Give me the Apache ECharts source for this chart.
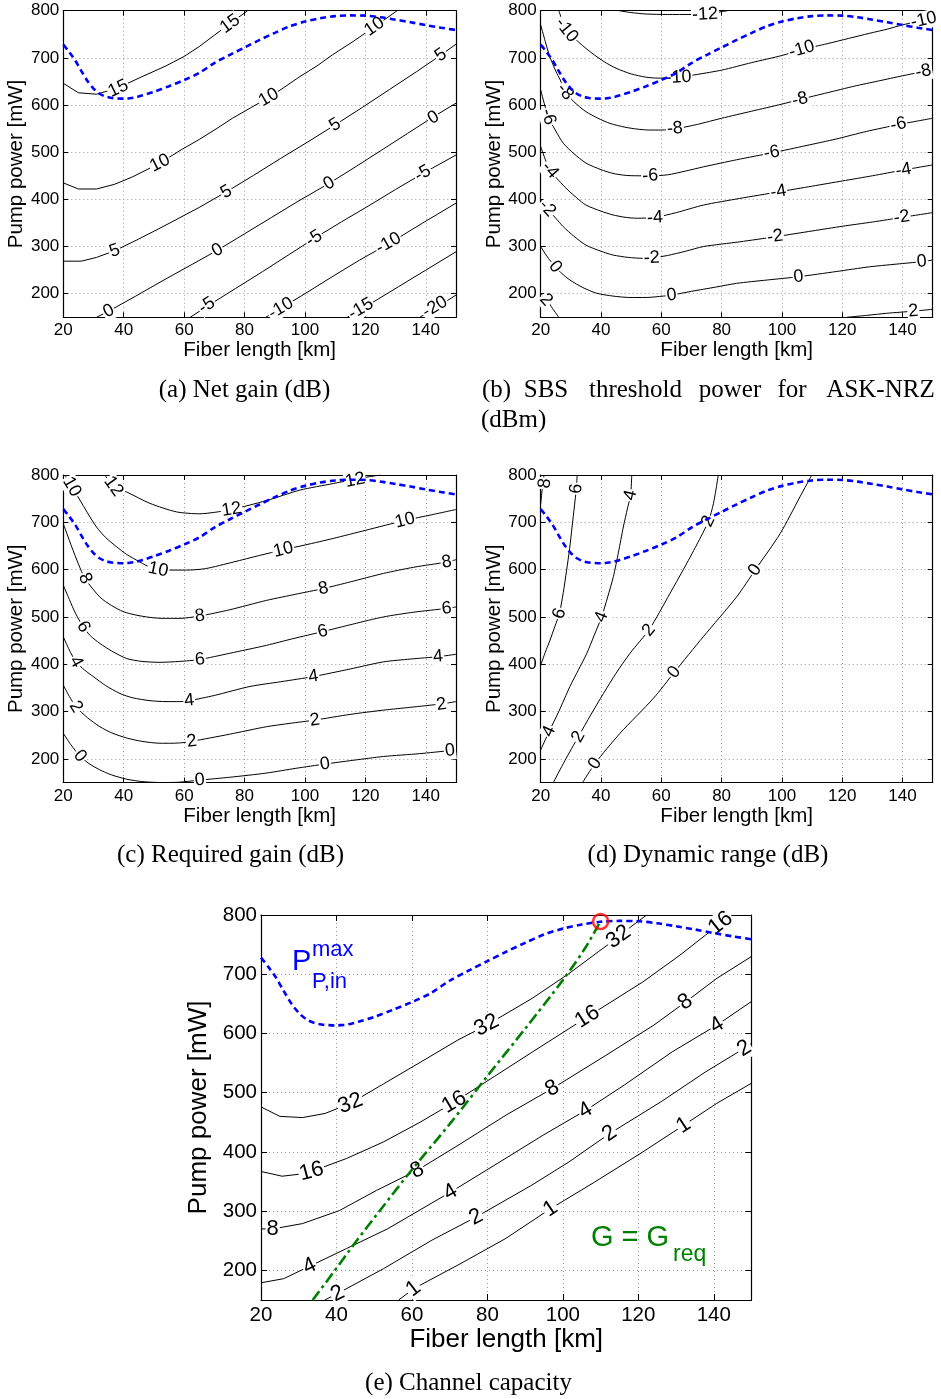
<!DOCTYPE html>
<html><head><meta charset="utf-8">
<script src="https://cdn.jsdelivr.net/npm/echarts@6/dist/echarts.min.js"></script>
<style>html,body{margin:0;padding:0;background:#fff}#c{width:941px;height:1399px}</style>
</head><body><div id="c"></div>
<script>
// ---------- axes ----------
const xTickVals = [20, 40, 60, 80, 100, 120, 140];
const yTickVals = [200, 300, 400, 500, 600, 700, 800];

// ---------- P_P,in^max (shared by all panels) ----------
const pmaxCurve = [[20,728],[22,712],[24,694],[26,672],[28,651],[30,635],[32,624],[34,618],[36,615],[38,614],[40,613.5],[42,614.5],[44,616.5],[46,620],[50,628],[55,640],[60,653],[65,668],[70,689],[75,706],[80,722],[85,738],[90,753],[95,767],[100,777],[105,784],[110,788.5],[115,790],[120,789.5],[125,786],[130,781],[135,775.5],[140,769.5],[145,764],[150,759]];

// ---------- (a) Net gain ----------
const aG15 = [[20,646],[25,626],[31,623],[38,636],[46,660],[54,683],[60,703],[65,724],[70,748],[75,772],[81,800]];
const aG10 = [[20,435],[25,422],[31,422],[37,432],[43,448],[52,477],[59,505],[65,527],[71,551],[76,572],[82,594],[88,616],[93,637],[98,659],[104,683],[109,706],[116,735],[123,766],[130.5,800]];
const aG5 = [[20,269],[26,269],[31,277],[37,291],[45,316],[55,349],[65,383],[74,416],[83,451],[92,487],[101,522],[110,558],[119,595],[128,633],[137,671],[145,706],[150,729]];
const aG0 = [[31,150],[35,163],[44,195],[53,228],[62,260],[71,292],[80,327],[89,362],[98,397],[108,434],[117,470],[126,507],[134,540],[142,573],[150,604]];
const aGm5 = [[62,150],[68,175],[77,211],[86,247],[95,284],[103,317],[112,352],[121,386],[130,421],[139,455],[150,494]];
const aGm10 = [[87,150],[92,169],[101,204],[109,236],[118,271],[128,307],[139,350],[150,392]];
const aGm15 = [[114,150],[122,180],[131,215],[140,250],[150,289]];
const aGm20 = [[138,150],[144,173],[150,197]];
const aLabels = [[38.2,635,'15'],[75.2,772,'15'],[52,477,'10'],[88,616,'10'],[123,766,'10'],[37,291,'5'],[74,416,'5'],[110,558,'5'],[145,706,'5'],[35,163,'0'],[71,292,'0'],[108,434,'0'],[142.5,573,'0'],[67.5,175,'-5'],[103,317,'-5'],[139,455,'-5'],[92,169,'-10'],[127.6,307,'-10'],[118.5,168,'-15'],[143,172,'-20']];

// ---------- (b) SBS threshold ----------
const bSm12 = [[46,800],[50,796],[55,793],[62,792],[70,792],[76,794],[80,798],[82,800]];
const bSm10 = [[26,800],[28,766],[30,750],[33,731],[37,710],[41,692],[45,678],[50,666],[55,659],[59,657],[63,658],[66,659],[72,665],[80,674],[90,690],[100,705],[107,718],[115,730],[122,741],[129,752],[135,761],[140,770],[147,780],[150,784]];
const bSm8 = [[20,770],[21.5,735],[23,703],[25,672],[26.5,653],[28,630],[31,607],[35,586],[39,572],[43,561],[48,553],[52,549],[56,547],[60,547],[65,550],[72,559],[80,572],[90,587],[100,602],[106,612],[115,626],[124,640],[132,651],[140,662],[147,671],[150,674]];
const bSm6 = [[20,632],[22.5,575],[25,545],[27.5,519],[31,497],[35,477],[40,463],[44,455],[48,451],[52,450],[56,450],[62,452],[68,460],[74,469],[85,484],[97,499],[108,514],[118,528],[128,544],[139,559],[150,572]];
const bSm4 = [[20,512],[21.5,485],[23,462],[26,440],[29,420],[32,403],[35,388],[40,375],[44,367],[48,362],[52,360],[58,362],[65,372],[74,388],[86,402],[99,416],[110,428],[120,439],[130,450],[140,462],[150,473]];
const bSm2 = [[20,399],[22,381],[25,360],[27.5,342],[31,322],[35,303],[40,290],[44,282],[49,277],[54,275],[57,276],[62,281],[68,290],[74,300],[86,310],[98,321],[110,333],[120,343],[130,352],[140,362],[150,372]];
const bS0 = [[20,300],[22,280],[24.8,257],[27,243],[29.7,229],[34,213],[38.6,201],[44,195],[49.6,192],[55,192],[60.7,195],[63.4,197],[70,205],[78,214],[85,222],[95,229],[105.5,236],[118,247],[129,257],[140,264],[146.4,268],[150,271.5]];
const bS2a = [[20,201],[22,187],[24,168],[26,150]];
const bS2b = [[121.5,150],[128,154],[134.7,158.5],[143.6,163],[150,167]];
const bLabels = [[74.5,792,'-12'],[28.6,759,'-10'],[65.7,658.7,'-10'],[106.6,718,'-10'],[147,780,'-10'],[28.1,628,'-8'],[64.5,550,'-8'],[106,612,'-8'],[146.9,671,'-8'],[22.5,575,'-6'],[56.3,450,'-6'],[96.6,499,'-6'],[138.6,559,'-6'],[23.1,462,'-4'],[57.9,361,'-4'],[98.8,416,'-4'],[140.3,462,'-4'],[22.2,381,'-2'],[56.8,276,'-2'],[97.7,321,'-2'],[139.7,362,'-2'],[24.8,257,'0'],[63.4,197,'0'],[105.5,236,'0'],[146.4,268,'0'],[21.8,187,'2'],[143.6,163,'2']];

// ---------- (c) Required gain ----------
const cR12 = [[33.8,800],[36.6,775],[41,764],[48.7,740],[57.5,722],[65.2,718],[70,721],[75.7,727],[87.3,746],[98.3,768],[109.4,782],[115,789],[120,795],[125,800]];
const cR10 = [[20.5,800],[22.8,775],[25.5,747],[28,720],[31,690],[34,668],[37.7,648],[41,632],[45.4,616],[49,604],[52,600],[56,599],[60.8,599],[67,602],[76.3,616],[85,630],[92.8,642],[100,652],[109.4,666],[120,683],[133.1,704],[142,716],[150,727]];
const cR8 = [[20,697],[22.8,648],[25,612],[27.2,581],[32.1,542],[36,524],[39.9,511],[44,504],[48.7,499],[53,497],[58.6,497],[65.2,502],[75,515],[87.3,535],[97,548],[106.1,560],[115,574],[126,592],[136,605],[146.9,616],[150,621]];
const cR6 = [[20,567],[22,537],[24,508],[26.6,479],[29,460],[32.1,444],[36,428],[41,412],[46,406],[52,404],[56,405],[60.8,407],[65.2,410],[75,423],[87.3,440],[96,454],[105.9,469],[116,485],[126,500],[136,510],[146.9,518],[150,521]];
const cR4 = [[20,458],[22,430],[24.2,405],[27,388],[29.9,374],[34,355],[38.8,338],[43,329],[48.7,323],[54,321],[58.6,321],[61.7,323],[70,334],[81.8,353],[92,363],[102.8,374],[115,390],[126,405],[135,411],[144.1,416],[150,421]];
const cR2 = [[20,356],[22,332],[24.2,310],[28,287],[32.1,268],[36,255],[41,244],[46,237],[52,233],[56,233],[59.2,234],[62.5,237],[75,252],[87.3,268],[95,275],[103.3,282],[115,294],[126,303],[135,309],[145,316],[150,321]];
const cR0 = [[20,254],[22.5,230],[25.5,206],[28.5,190],[32,177],[36,166],[41,157],[46,152],[52,150],[58,150.5],[65,155],[75,161],[87.3,170],[97,180],[106.6,189],[116,197],[126,205],[138,211],[148,217.5],[150,219]];
const cLabels = [[36.6,776,'12'],[75.7,727,'12'],[116.6,789,'12'],[22.8,775,'10'],[51.4,600,'10'],[92.8,642,'10'],[133.1,704,'10'],[27.2,581,'8'],[65.2,502,'8'],[106.1,560,'8'],[146.9,616,'8'],[26.6,479,'6'],[65.2,410,'6'],[105.9,469,'6'],[146.9,518,'6'],[24.2,405,'4'],[61.7,323,'4'],[102.8,374,'4'],[144.1,416,'4'],[24.2,310,'2'],[62.5,237,'2'],[103.3,282,'2'],[145.2,315,'2'],[25.5,206,'0'],[65.2,155,'0'],[106.6,189,'0'],[148,217.5,'0']];

// ---------- (d) Dynamic range ----------
const dD8 = [[20,739],[20.5,770],[21.1,800]];
const dD6 = [[20,398],[21.5,425],[23.1,451],[24.7,480],[26.2,507],[27.5,552],[28.6,599],[29.6,645],[30.4,690],[31.2,735],[31.8,771],[32.1,800]];
const dD4 = [[20,219],[22.8,258],[26,300],[29.7,353],[32.5,388],[35.3,423],[37.8,462],[40.2,500],[42.2,542],[44.1,585],[45.8,637],[47.4,690],[48.8,730],[49.8,757],[50.2,800]];
const dD2 = [[24.2,150],[28,196],[32.5,247],[36.6,293],[40.8,338],[45,381],[49.6,423],[52.8,448],[55.9,472],[59.4,510],[62.9,550],[67.3,600],[71.7,652],[75.6,702],[77.3,740],[78.9,800]];
const dD0 = [[33.9,150],[38,190],[46.3,254],[57.4,328],[64.3,383],[73.9,458],[85,542.5],[91.1,599],[99.4,676],[106,754],[109.9,800]];
const dLabels = [[21.4,782,'8'],[26.2,507,'6'],[31.8,771,'6'],[22.8,258,'4'],[40.2,500,'4'],[49.8,757,'4'],[32.5,247,'2'],[55.9,472,'2'],[75.6,702,'2'],[38,190,'0'],[64.3,383,'0'],[91.1,599,'0']];

// ---------- (e) Channel capacity ----------
const eC32 = [[20,476],[25,460],[31,458],[37,465],[43.7,482],[52.5,515],[62.4,552],[72.2,589],[79.8,614],[91.8,659],[101.6,701],[109.4,738],[114.8,763],[118,780],[122.2,800]];
const eC16 = [[20,367],[25.6,359],[31,363],[33.4,367],[42.7,389],[52.5,417],[62.4,451],[71.2,484],[82,528],[92,569],[101.6,608],[106.5,628],[121.2,687],[131,732],[137.8,766],[141.8,786],[144.7,800]];
const eC8 = [[20,270],[23.1,270],[31,279],[40.8,301],[50.6,335],[61.4,369],[72.2,411],[84.9,462],[97.2,507],[111.4,563],[124.1,614],[132.5,653],[140.8,693],[150,730]];
const eC4 = [[20,179],[26,186],[32.9,207],[42.7,237],[53.5,270],[70.2,332],[82,378],[94.7,428],[106,470],[116.3,513],[129,569],[140.8,614],[150,654]];
const eC2 = [[36.9,150],[40.3,161],[52.5,203],[65.3,251],[77,290],[91.8,344],[101.6,383],[112.4,431],[126.1,485],[137.8,535],[148.1,575],[150,583]];
const eC1 = [[56.5,150],[60.4,169],[72.2,209],[84.9,254],[96.7,304],[108.4,349],[121.2,400],[132,445],[140.8,482],[150,516]];
const eLabels = [[43.7,482,'32'],[79.8,614,'32'],[114.8,763,'32'],[33.4,367,'16'],[71.2,484,'16'],[106.5,628,'16'],[141.8,786,'16'],[23.1,270,'8'],[61.4,369,'8'],[97.2,507,'8'],[132.5,653,'8'],[32.9,207,'4'],[70.2,332,'4'],[106,470,'4'],[140.8,614,'4'],[40.3,161,'2'],[77,290,'2'],[112.4,431,'2'],[148.1,575,'2'],[60.4,169,'1'],[96.7,304,'1'],[132,445,'1']];
const eGreq = [[33.7,150],[39,195],[45,247],[52,305],[60,370],[70,447],[80,528],[90,608],[100,690],[106,745],[110,790]];
const eOptimum = [[110,789]];

// ---------- layout ----------
const SANS = 'Liberation Sans';
const SERIF = 'Liberation Serif';
const panels = [
  {grid:{left:63.3, top:10.7, width:392.7, height:306.6}, lines:[aG15,aG10,aG5,aG0,aGm5,aGm10,aGm15,aGm20], labels:aLabels, fs:17, ts:20.5, lfs:18, xGap:21, yGap:36, tick:5, smooth:false},
  {grid:{left:540.7, top:10.7, width:392, height:306.6}, lines:[bSm12,bSm10,bSm8,bSm6,bSm4,bSm2,bS0,bS2a,bS2b], labels:bLabels, fs:17, ts:20.5, lfs:18, xGap:21, yGap:36, tick:5, smooth:0.25},
  {grid:{left:63.3, top:475, width:392.7, height:307.5}, lines:[cR12,cR10,cR8,cR6,cR4,cR2,cR0], labels:cLabels, fs:17, ts:20.5, lfs:18, xGap:21, yGap:36, tick:5, smooth:0.25},
  {grid:{left:540.7, top:475, width:392, height:307.5}, lines:[dD8,dD6,dD4,dD2,dD0], labels:dLabels, fs:17, ts:20.5, lfs:18, xGap:21, yGap:36, tick:5, smooth:0.25},
  {grid:{left:261, top:915, width:490.5, height:385}, lines:[eC32,eC16,eC8,eC4,eC2,eC1], labels:eLabels, fs:20.5, ts:26, lfs:22, xGap:25, yGap:46, tick:6, smooth:false}
];

function labelAngle(lbl, lines, sx, sy) {
  let best = Infinity, ang = 0;
  const px = lbl[0]*sx, py = lbl[1]*sy;
  for (const ln of lines) for (let i = 0; i < ln.length-1; i++) {
    const ax = ln[i][0]*sx, ay = ln[i][1]*sy, bx = ln[i+1][0]*sx, by = ln[i+1][1]*sy;
    const dx = bx-ax, dy = by-ay, L = dx*dx+dy*dy;
    let t = L ? ((px-ax)*dx+(py-ay)*dy)/L : 0; t = Math.max(0, Math.min(1, t));
    const qx = ax+t*dx, qy = ay+t*dy, d = (px-qx)**2+(py-qy)**2;
    if (d < best) { best = d; ang = Math.atan2(dy, dx)*180/Math.PI; }
  }
  if (ang > 90) ang -= 180; if (ang < -90) ang += 180;
  return ang;
}

const grids = [], xAxes = [], yAxes = [], series = [];
const axLine = {show:true, onZero:false, lineStyle:{color:'#000', width:1.2}};
const gridLine = {show:true, lineStyle:{color:'#9a9a9a', width:1, type:[1,3]}};
panels.forEach((p, gi) => {
  grids.push(Object.assign({outerBoundsMode:'none', containLabel:false}, p.grid));
  const tickB = {show:true, inside:true, length:p.tick, customValues:xTickVals, lineStyle:{color:'#000', width:1}};
  const tickL = {show:true, inside:true, length:p.tick, customValues:yTickVals, lineStyle:{color:'#000', width:1}};
  xAxes.push({gridIndex:gi, type:'value', min:20, max:150, interval:20, position:'bottom', axisLine:axLine, axisTick:tickB,
    axisLabel:{customValues:xTickVals, color:'#000', fontSize:p.fs, fontFamily:SANS, margin:5},
    splitLine:gridLine, name:'Fiber length [km]', nameLocation:'middle', nameGap:p.xGap,
    nameTextStyle:{color:'#000', fontSize:p.ts, fontFamily:SANS}});
  xAxes.push({gridIndex:gi, type:'value', min:20, max:150, interval:20, position:'top', axisLine:axLine,
    axisTick:tickB, axisLabel:{show:false}, splitLine:{show:false}});
  yAxes.push({gridIndex:gi, type:'value', min:150, max:800, position:'left', axisLine:axLine, axisTick:tickL,
    axisLabel:{customValues:yTickVals, color:'#000', fontSize:p.fs, fontFamily:SANS, margin:4},
    splitLine:gridLine, name:'Pump power [mW]', nameLocation:'middle', nameGap:p.yGap,
    nameTextStyle:{color:'#000', fontSize:p.ts, fontFamily:SANS}});
  yAxes.push({gridIndex:gi, type:'value', min:150, max:800, position:'right', axisLine:axLine,
    axisTick:tickL, axisLabel:{show:false}, splitLine:{show:false}});
  const xi = 2*gi, yi = 2*gi;
  p.lines.forEach(ln => series.push({type:'line', xAxisIndex:xi, yAxisIndex:yi, data:ln, symbol:'none',
    smooth:p.smooth, silent:true, z:2, lineStyle:{color:'#000', width:1}}));
  const sx = p.grid.width/130, sy = p.grid.height/650;
  series.push({type:'scatter', xAxisIndex:xi, yAxisIndex:yi, symbolSize:1, silent:true, z:4,
    itemStyle:{color:'#ffffff', opacity:1},
    label:{show:true, position:'inside', formatter:'{b}', color:'#000000', textBorderWidth:0,
      fontSize:p.lfs, fontFamily:SANS, backgroundColor:'#fff', padding:[0,1], lineHeight:p.lfs},
    data:p.labels.map(l => ({name:l[2], value:[l[0], l[1]], label:{rotate:labelAngle(l, p.lines, sx, sy)}}))});
  series.push({type:'line', xAxisIndex:xi, yAxisIndex:yi, data:pmaxCurve, symbol:'none', smooth:0.3, silent:true, z:6,
    lineStyle:{color:'#0000ff', width:2.6, type:[6,4]}});
});
// (e) extras
series.push({type:'line', xAxisIndex:8, yAxisIndex:8, data:eGreq, symbol:'none', smooth:0.3, silent:true, z:6,
  lineStyle:{color:'#008000', width:2.6, type:[11,4,3,4]}});
series.push({type:'scatter', xAxisIndex:8, yAxisIndex:8, data:eOptimum, symbol:'circle', symbolSize:15, silent:true, z:7,
  itemStyle:{color:'rgba(0,0,0,0)', borderColor:'#ff0000', borderWidth:2.5}});

function txt(x, y, text, size, family, color, align) {
  return {type:'text', x:x, y:y, silent:true, z:10,
    style:{text:text, fill:color, fontSize:size, fontFamily:family, textAlign:align||'left', align:align||'left',
      textVerticalAlign:'middle', verticalAlign:'middle'}};
}
const CAP = 25;
const graphics = [
  txt(244.5, 390, '(a) Net gain (dB)', CAP, SERIF, '#000', 'center'),
  txt(496.5, 390, '(b)', CAP, SERIF, '#000', 'center'),
  txt(546, 390, 'SBS', CAP, SERIF, '#000', 'center'),
  txt(635.5, 390, 'threshold', CAP, SERIF, '#000', 'center'),
  txt(730, 390, 'power', CAP, SERIF, '#000', 'center'),
  txt(792, 390, 'for', CAP, SERIF, '#000', 'center'),
  txt(880.5, 390, 'ASK-NRZ', CAP, SERIF, '#000', 'center'),
  txt(481, 420, '(dBm)', CAP, SERIF, '#000'),
  txt(230.5, 855, '(c) Required gain (dB)', CAP, SERIF, '#000', 'center'),
  txt(708, 855, '(d) Dynamic range (dB)', CAP, SERIF, '#000', 'center'),
  txt(468.5, 1383, '(e) Channel capacity', CAP, SERIF, '#000', 'center'),
  txt(292, 962, 'P', 29, SANS, '#0000ff'),
  txt(312, 950, 'max', 22, SANS, '#0000ff'),
  txt(312, 982, 'P,in', 22, SANS, '#0000ff'),
  txt(591, 1238, 'G = G', 29, SANS, '#008000'),
  txt(673, 1255, 'req', 23, SANS, '#008000')
];

const chart = echarts.init(document.getElementById('c'), null, {renderer:'canvas'});
chart.setOption({animation:false, backgroundColor:'#fff', grid:grids, xAxis:xAxes, yAxis:yAxes, series:series, graphic:graphics});
</script>
</body></html>
